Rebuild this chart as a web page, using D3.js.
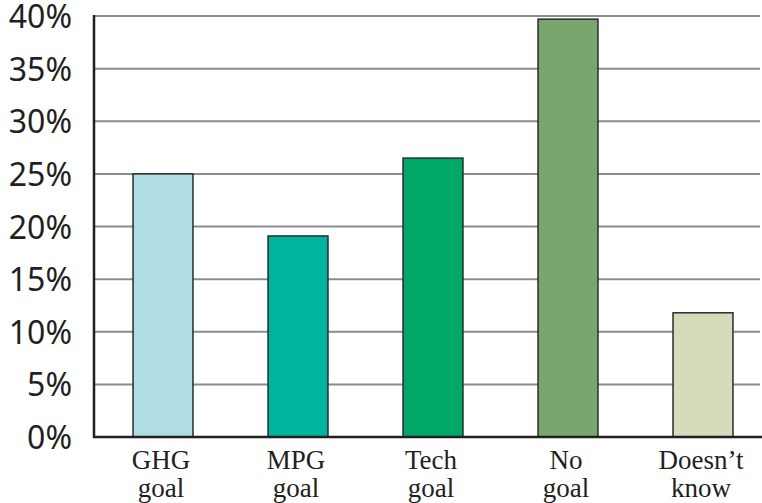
<!DOCTYPE html>
<html>
<head>
<meta charset="utf-8">
<script src="https://cdn.jsdelivr.net/npm/d3@7"></script>
<style>
  html, body { margin: 0; padding: 0; background: #fff; }
  svg { display: block; }
</style>
</head>
<body>
<svg id="chart" width="762" height="503"></svg>
<script>
// Share of respondents by goal type
const categories = [["GHG", "goal"], ["MPG", "goal"], ["Tech", "goal"], ["No", "goal"], ["Doesn\u2019t", "know"]];
const values = [25.0, 19.1, 26.5, 39.7, 11.8];
const colors = ["#b0dde3", "#00b5a0", "#00a868", "#7aa56c", "#d5dbbb"];
const yTicks = [0, 5, 10, 15, 20, 25, 30, 35, 40];

(function () {
  const svg = d3.select("#chart");
  const plotLeft = 94, plotTop = 16, plotBottom = 437;

  const keys = categories.map((c, i) => i);
  const x = d3.scaleBand()
    .domain(keys)
    .range([95.5, 770.5])
    .paddingInner(0.556)
    .paddingOuter(0.278);

  const y = d3.scaleLinear().domain([0, 40]).range([plotBottom, plotTop]);

  // Horizontal gridlines
  svg.append("g")
    .selectAll("line")
    .data(yTicks.filter(t => t > 0))
    .join("line")
    .attr("x1", plotLeft)
    .attr("x2", 760)
    .attr("y1", d => y(d))
    .attr("y2", d => y(d))
    .attr("stroke", "#8c8c8c")
    .attr("stroke-width", 2);

  // Y tick labels
  svg.append("g")
    .selectAll("text")
    .data(yTicks)
    .join("text")
    .attr("x", 72)
    .attr("y", d => y(d) + 12)
    .attr("text-anchor", "end")
    .attr("font-family", "'Noto Sans', sans-serif")
    .attr("font-size", 32)
    .attr("fill", "#231f20")
    .text(d => d + "%");

  // Bars
  svg.append("g")
    .selectAll("rect")
    .data(values)
    .join("rect")
    .attr("x", (d, i) => x(i))
    .attr("y", d => y(d))
    .attr("width", x.bandwidth())
    .attr("height", d => plotBottom - y(d))
    .attr("fill", (d, i) => colors[i])
    .attr("stroke", "#2b2b2b")
    .attr("stroke-width", 1.5);

  // Axis lines
  svg.append("line")
    .attr("x1", plotLeft).attr("x2", plotLeft)
    .attr("y1", plotTop - 1).attr("y2", plotBottom + 1)
    .attr("stroke", "#231f20").attr("stroke-width", 2.5);
  svg.append("line")
    .attr("x1", plotLeft - 1).attr("x2", 762)
    .attr("y1", plotBottom).attr("y2", plotBottom)
    .attr("stroke", "#231f20").attr("stroke-width", 2.5);

  // Category labels (two lines)
  const lbl = svg.append("g")
    .selectAll("text")
    .data(categories)
    .join("text")
    .attr("text-anchor", "middle")
    .attr("font-family", "'Liberation Serif', 'Times New Roman', serif")
    .attr("font-size", 27)
    .attr("fill", "#231f20");
  lbl.each(function (d, i) {
    const cx = x(i) + x.bandwidth() / 2 - 2;
    d3.select(this).selectAll("tspan")
      .data(d)
      .join("tspan")
      .attr("x", cx)
      .attr("y", (t, j) => 469 + j * 28)
      .text(t => t);
  });
})();
</script>
</body>
</html>
